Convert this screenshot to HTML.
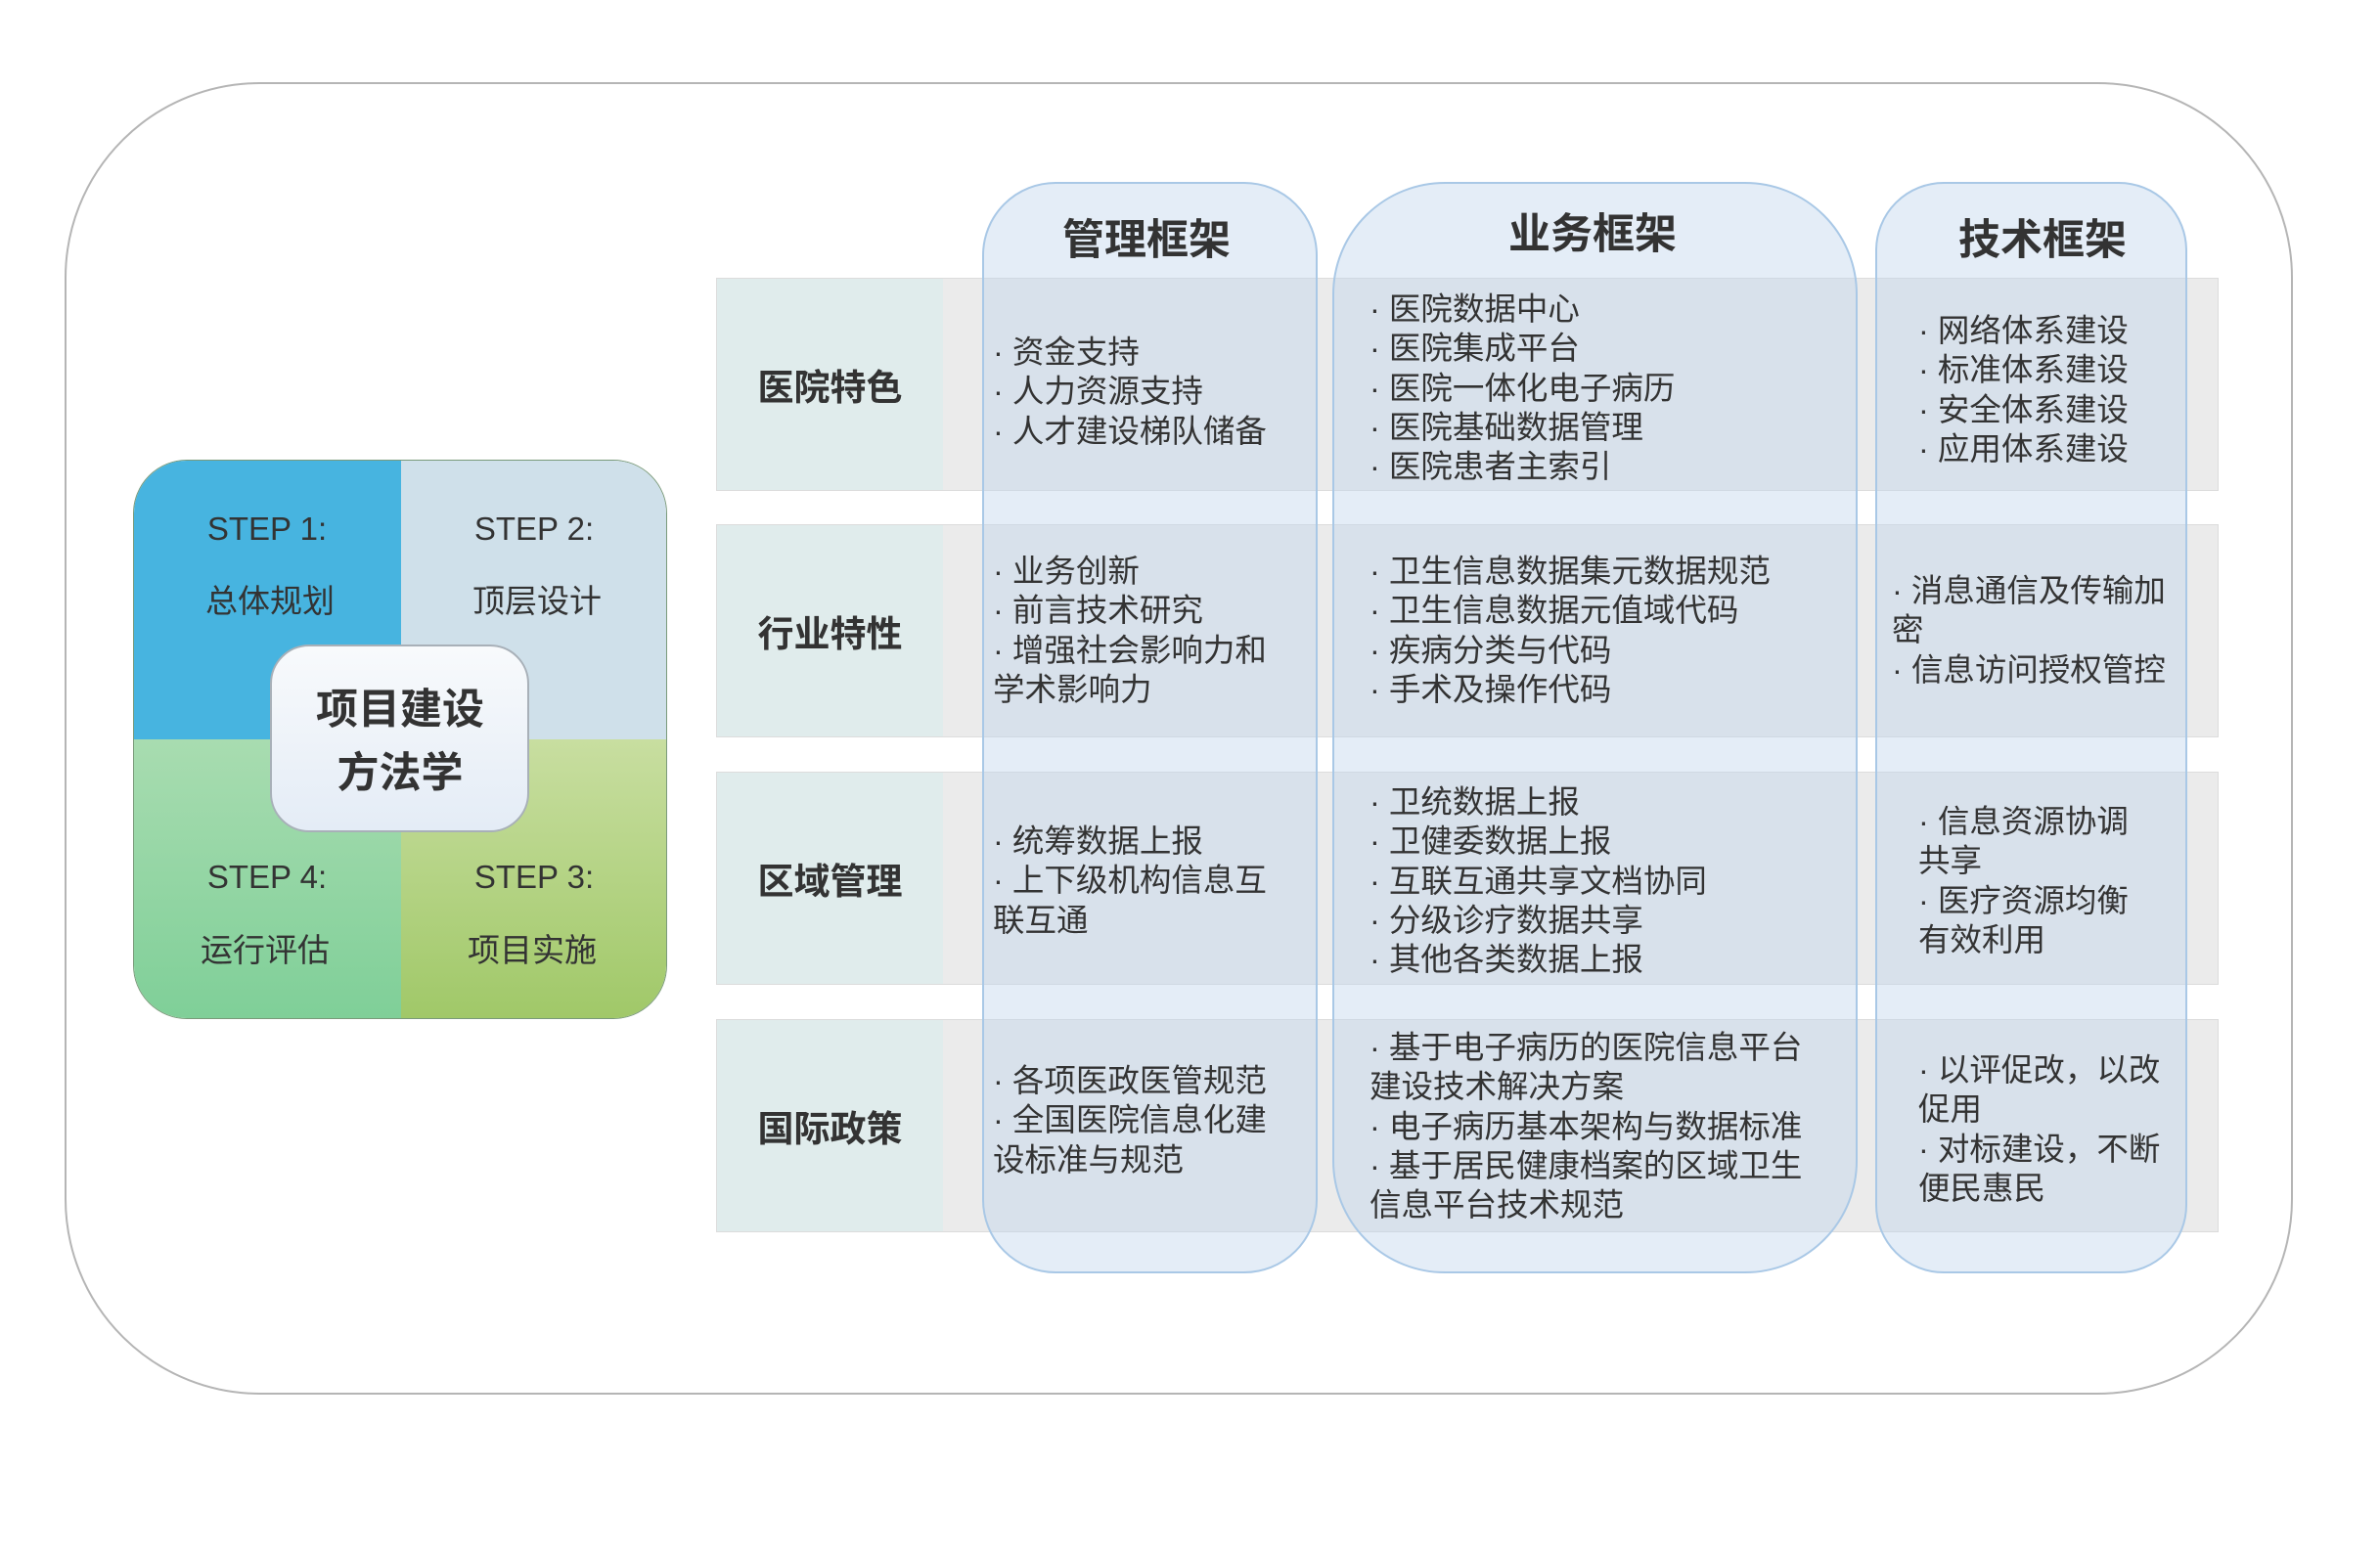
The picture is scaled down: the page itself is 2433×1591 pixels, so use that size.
<!DOCTYPE html>
<html><head><meta charset="utf-8"><style>
body{margin:0;width:2433px;height:1591px;background:#fff;position:relative;overflow:hidden;font-family:"Liberation Sans","Noto Sans CJK SC",sans-serif;color:#333}
.a{position:absolute}
.outer{left:66px;top:84px;width:2278px;height:1342px;border:2px solid #b5b5b5;border-radius:200px;box-sizing:border-box}
.row{position:absolute;left:732px;width:1536px;height:218px;background:#ebebeb;border:1px solid #dcdcdc;box-sizing:border-box}
.lab{position:absolute;left:0;top:0;width:231px;height:100%;background:#e0ecec;display:flex;align-items:center;justify-content:center;font-weight:bold;font-size:37px;color:#333}
.col{position:absolute;top:186px;height:1116px;background:rgba(190,212,235,0.42);border:2px solid #a9c8e6;box-sizing:border-box}
.hd{position:absolute;font-weight:bold;font-size:43px;transform:translate(-50%,-50%);white-space:nowrap;color:#333}
.t{position:absolute;font-size:32.5px;line-height:40.3px;white-space:nowrap;color:#333}
.st{position:absolute;font-size:33px;transform:translate(-50%,-50%);white-space:nowrap;color:#333}
</style></head><body>
<div class="a outer"></div>

<div class="row" style="top:284px"><div class="lab">医院特色</div></div>
<div class="row" style="top:536px"><div class="lab">行业特性</div></div>
<div class="row" style="top:789px"><div class="lab">区域管理</div></div>
<div class="row" style="top:1042px"><div class="lab">国际政策</div></div>

<div class="col" style="left:1004px;width:343px;border-radius:75px"></div>
<div class="col" style="left:1362px;width:537px;border-radius:115px"></div>
<div class="col" style="left:1917px;width:319px;border-radius:70px"></div>

<div class="hd" style="left:1172px;top:242px">管理框架</div>
<div class="hd" style="left:1628px;top:236px">业务框架</div>
<div class="hd" style="left:2088px;top:242px">技术框架</div>

<div class="t" style="left:1015px;top:340px">· 资金支持<br>· 人力资源支持<br>· 人才建设梯队储备</div>
<div class="t" style="left:1015px;top:564px">· 业务创新<br>· 前言技术研究<br>· 增强社会影响力和<br>学术影响力</div>
<div class="t" style="left:1015px;top:840px">· 统筹数据上报<br>· 上下级机构信息互<br>联互通</div>
<div class="t" style="left:1015px;top:1085px">· 各项医政医管规范<br>· 全国医院信息化建<br>设标准与规范</div>

<div class="t" style="left:1400px;top:296px">· 医院数据中心<br>· 医院集成平台<br>· 医院一体化电子病历<br>· 医院基础数据管理<br>· 医院患者主索引</div>
<div class="t" style="left:1400px;top:564px">· 卫生信息数据集元数据规范<br>· 卫生信息数据元值域代码<br>· 疾病分类与代码<br>· 手术及操作代码</div>
<div class="t" style="left:1400px;top:800px">· 卫统数据上报<br>· 卫健委数据上报<br>· 互联互通共享文档协同<br>· 分级诊疗数据共享<br>· 其他各类数据上报</div>
<div class="t" style="left:1400px;top:1051px">· 基于电子病历的医院信息平台<br>建设技术解决方案<br>· 电子病历基本架构与数据标准<br>· 基于居民健康档案的区域卫生<br>信息平台技术规范</div>

<div class="t" style="left:1961px;top:318px">· 网络体系建设<br>· 标准体系建设<br>· 安全体系建设<br>· 应用体系建设</div>
<div class="t" style="left:1934px;top:584px">· 消息通信及传输加<br>密<br>· 信息访问授权管控</div>
<div class="t" style="left:1961px;top:820px">· 信息资源协调<br>共享<br>· 医疗资源均衡<br>有效利用</div>
<div class="t" style="left:1961px;top:1074px">· 以评促改，以改<br>促用<br>· 对标建设，不断<br>便民惠民</div>

<div class="a" style="left:136px;top:470px;width:546px;height:572px;border-radius:55px;overflow:hidden;border:1.5px solid #7a9a7a;box-sizing:border-box">
 <div class="a" style="left:0;top:0;width:273px;height:285px;background:#47b4e0;border-right:1px solid #557;border-bottom:1px solid #557"></div>
 <div class="a" style="left:273px;top:0;width:273px;height:285px;background:#cfe0ea;border-bottom:1px solid #557"></div>
 <div class="a" style="left:0;top:285px;width:273px;height:287px;background:linear-gradient(#a8dcb0,#7fcf98);border-right:1px solid #557"></div>
 <div class="a" style="left:273px;top:285px;width:273px;height:287px;background:linear-gradient(#c8dea0,#a0c868)"></div>
</div>
<div class="st" style="left:273px;top:541px">STEP 1:</div>
<div class="st" style="left:276px;top:612px">总体规划</div>
<div class="st" style="left:546px;top:541px">STEP 2:</div>
<div class="st" style="left:549px;top:612px">顶层设计</div>
<div class="st" style="left:273px;top:897px">STEP 4:</div>
<div class="st" style="left:271px;top:969px">运行评估</div>
<div class="st" style="left:546px;top:897px">STEP 3:</div>
<div class="st" style="left:544px;top:969px">项目实施</div>
<div class="a" style="left:276px;top:659px;width:265px;height:192px;border-radius:40px;background:linear-gradient(#f8fafc,#e4ecf6);border:2px solid #a8b0b8;box-sizing:border-box"></div>
<div class="hd" style="left:409px;top:722px">项目建设</div>
<div class="hd" style="left:409px;top:787px">方法学</div>
</body></html>
